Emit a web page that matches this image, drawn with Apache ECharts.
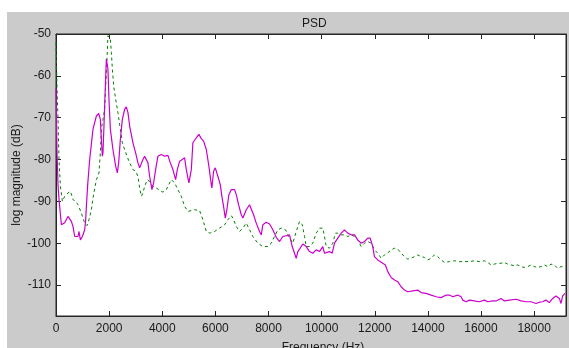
<!DOCTYPE html>
<html>
<head>
<meta charset="utf-8">
<script src="https://cdn.jsdelivr.net/npm/echarts@6.0.0/dist/echarts.min.js"></script>
<style>
  html, body { margin: 0; padding: 0; background: #ffffff; }
  #bg { position: absolute; left: 7px; top: 12px; width: 562px; height: 336px; background: #cbcbcb; }
  #chart { position: absolute; left: 0; top: 0; width: 569px; height: 348px; }
</style>
</head>
<body>
<div id="bg"></div>
<div id="chart"></div>
<script>
// ---- data ----
const titleText = 'PSD';
const xName = 'Frequency (Hz)';
const yName = 'log magnitude (dB)';
const xTicks = [0, 2000, 4000, 6000, 8000, 10000, 12000, 14000, 16000, 18000];
const yTicks = [-110, -100, -90, -80, -70, -60, -50];
const xMin = 0, xMax = 19200;
const yMin = -117.4, yMax = -50;

// magenta solid curve
const magFreq = [0,38,75,120,203,327,451,515,579,640,
  703,828,865,918,993,1080,1117,1144,1193,1268,
  1392,1520,1606,1670,1708,1746,1768,1806,1858,1896,
  1919,1956,1994,2047,2144,2246,2310,2359,2423,2498,
  2584,2648,2709,2773,2897,2998,3085,3149,3213,3273,
  3337,3401,3461,3525,3612,3675,3751,3837,3965,4089,
  4213,4304,4402,4503,4567,4654,4755,4842,4906,5003,
  5094,5154,5282,5380,5470,5557,5658,5756,5846,5869,
  5933,5997,6094,6185,6245,6309,6373,6433,6508,6598,
  6723,6787,6873,6975,7035,7163,7287,7351,7438,7539,
  7663,7727,7787,7915,8039,8164,8291,8416,8540,8690,
  8792,8893,8980,9044,9104,9168,9292,9420,9544,9668,
  9796,9920,10044,10108,10172,10297,10398,10485,10609,10737,
  10861,10985,11113,11237,11361,11489,11613,11737,11828,11925,
  11989,12114,12178,12302,12403,12490,12618,12742,12866,12994,
  13118,13242,13430,13618,13746,13934,14122,14311,14499,14687,
  14811,14935,15123,15187,15251,15311,15439,15563,15751,15939,
  16003,16127,16252,16440,16568,16756,16880,17068,17320,17508,
  17696,17884,18073,18197,18321,18449,18573,18697,18825,18949,
  19013,19073,19164];
const magDb = [-63,-78,-86,-90,-95.6,-95.1,-93.6,-93.9,-94.8,-96,
  -98.4,-98.4,-97.2,-99.2,-98.4,-96.8,-94.4,-91.2,-86,-80,
  -72.8,-69.6,-69,-70.4,-75.2,-79.2,-78.4,-72,-62.4,-56,
  -55.8,-58.4,-65.6,-72.8,-77.6,-81.6,-83.2,-80.8,-75.2,-70.4,
  -68,-67.4,-68.8,-72,-76,-78.4,-80.8,-82,-81.6,-80,
  -79.2,-79.2,-80.8,-84,-87.2,-85.6,-82.4,-79.2,-78.8,-79.2,
  -79,-80.8,-82.4,-84.8,-82.4,-80.4,-80,-79.6,-82.4,-85.6,
  -82.4,-76,-74.8,-74,-75,-75.6,-77.6,-81.6,-86,-86.8,
  -82.8,-82,-84,-86,-88.8,-91.2,-94,-92,-88.4,-87.2,
  -87.2,-88.4,-90.8,-93.2,-94,-92,-90.8,-91.2,-93.2,-95.2,
  -97.2,-98,-95.6,-95,-95.4,-96.8,-98.6,-99.6,-98.4,-98.2,
  -98,-100.8,-102.4,-103.6,-102,-101.4,-100.2,-100.8,-102,-102.4,
  -101.6,-102,-100.8,-102.4,-102.8,-102,-102.4,-100,-98.8,-97.6,
  -96.8,-97.6,-98,-98,-99.2,-100,-99.6,-98.8,-98.8,-100.8,
  -103.2,-104,-104.4,-104.8,-105.2,-106.8,-108.2,-108.8,-109.2,-110.4,
  -111.2,-111.6,-111.4,-111.2,-111.8,-112,-112.4,-112.8,-113,-112.4,
  -112.4,-112.8,-112.4,-112,-112.8,-113.6,-114,-113.6,-113.8,-114,
  -114.4,-113.6,-114,-113.8,-113.8,-113.2,-113.8,-113.6,-113.4,-113.8,
  -114,-114,-114.4,-114.1,-114,-113.6,-114.2,-113.2,-112.6,-113.2,
  -114.4,-112.6,-112];

// green dashed curve
const grnFreq = [0,38,75,113,166,241,327,451,542,640,
  741,828,956,1080,1166,1241,1332,1392,1520,1618,
  1670,1708,1768,1832,1870,1919,1956,1994,2047,2084,
  2122,2171,2246,2332,2423,2498,2584,2671,2773,2897,
  2998,3085,3149,3213,3273,3337,3401,3461,3525,3649,
  3777,3901,4025,4153,4277,4341,4466,4590,4718,4842,
  4966,5094,5218,5406,5530,5658,5782,5970,6158,6346,
  6471,6598,6659,6787,6911,7035,7163,7287,7411,7599,
  7787,7975,8103,8227,8352,8480,8641,8728,8792,8916,
  9044,9168,9270,9356,9420,9544,9668,9796,9920,10044,
  10108,10172,10297,10421,10522,10609,10737,10861,10985,11113,
  11237,11361,11489,11613,11737,11865,11989,12114,12242,12366,
  12490,12618,12742,12866,12994,13118,13242,13370,13494,13618,
  13746,13871,13995,14122,14247,14371,14499,14623,14811,14999,
  15187,15375,15563,15751,15939,16127,16252,16380,16504,16628,
  16756,16880,17004,17132,17256,17380,17508,17632,17756,17884,
  18009,18133,18261,18385,18509,18637,18761,18885,19013,19164];
const grnDb = [-52,-62.4,-70.4,-80,-86.4,-90,-88.8,-88,-87.6,-89.6,
  -90,-90.8,-92.8,-95.2,-95.8,-94.4,-92,-89.2,-84.8,-83.2,
  -78.4,-72.8,-70.4,-68,-62.4,-56,-50.4,-50,-51.2,-54.4,
  -58.4,-62.4,-65.6,-68.8,-72.8,-76,-77.6,-79.2,-80.8,-82.4,
  -82.8,-84,-86.8,-88.8,-88,-86.4,-85.4,-84.8,-85.2,-86.4,
  -86.8,-87.4,-87.8,-87.2,-85.6,-84.8,-85.6,-87.2,-88.8,-91.2,
  -92.4,-92.2,-92,-92.2,-94.4,-97.2,-97.6,-97.2,-96.4,-95.6,
  -94.4,-93.4,-94,-96,-97.2,-96.4,-95.2,-96.8,-98.4,-100,
  -100.8,-100.8,-100,-98.4,-96.8,-96.4,-96.8,-98,-98.4,-100,
  -97.2,-94.8,-95.6,-98.4,-100.8,-100.8,-100,-97.6,-96.4,-96.4,
  -98.4,-100.8,-101.2,-100,-97.6,-97.6,-98,-98,-98.4,-98,
  -98.4,-99.2,-100.8,-100,-99.6,-100,-101.6,-102.4,-103.6,-102.8,
  -102.3,-101.6,-101.2,-101.4,-102.4,-103.2,-103.8,-103.6,-103.2,-102.8,
  -103.2,-103.4,-104,-103.6,-102.8,-103.2,-104,-104.6,-104.4,-104.2,
  -104.4,-104.4,-104.4,-104.2,-104.4,-104.2,-104.6,-105.2,-105,-104.8,
  -104.8,-104.6,-105,-105.2,-105.4,-105.2,-105.6,-105.8,-105.6,-105.2,
  -105.6,-105.8,-105.6,-105.2,-105.6,-105,-105.2,-106,-105.6,-105.6];

// ---- chart ----
const FONT = '"Liberation Sans", Arial, sans-serif';
const TXT = '#1a1a1a';
const AX = '#262626';
const zip = (a, b) => a.map((v, i) => [v, b[i]]);
const plain = v => String(v);

const chart = echarts.init(document.getElementById('chart'), null, { renderer: 'canvas' });

const xBase = {
  type: 'value', min: xMin, max: xMax,
  splitLine: { show: false },
  nameMoveOverlap: false,
  axisLine: { show: true, onZero: false, lineStyle: { color: AX, width: 1 } },
  axisTick: { show: true, inside: true, length: 5, customValues: xTicks, lineStyle: { color: AX } }
};
const yBase = {
  type: 'value', min: yMin, max: yMax,
  splitLine: { show: false },
  nameMoveOverlap: false,
  axisLine: { show: true, onZero: false, lineStyle: { color: AX, width: 1 } },
  axisTick: { show: true, inside: true, length: 5, customValues: yTicks, lineStyle: { color: AX } }
};

chart.setOption({
  animation: false,
  backgroundColor: 'transparent',
  textStyle: { fontFamily: FONT },
  title: {
    text: titleText, left: 297, top: 13,
    textStyle: { fontFamily: FONT, fontSize: 12, fontWeight: 'normal', color: TXT }
  },
  grid: {
    left: 56, top: 34, right: 3, bottom: 32,
    containLabel: false, outerBoundsMode: 'none',
    show: true, backgroundColor: '#ffffff', borderColor: AX, borderWidth: 1
  },
  xAxis: [
    Object.assign({}, xBase, {
      position: 'bottom',
      name: xName, nameLocation: 'middle', nameGap: 26,
      nameTextStyle: { fontFamily: FONT, fontSize: 12, color: TXT, padding: [0, 0, 0, 24] },
      axisLabel: { show: true, customValues: xTicks, formatter: plain, margin: 7, fontFamily: FONT, fontSize: 12, color: TXT }
    }),
    Object.assign({}, xBase, { position: 'top', axisLabel: { show: false } })
  ],
  yAxis: [
    Object.assign({}, yBase, {
      position: 'left',
      name: yName, nameLocation: 'middle', nameGap: 33, nameRotate: 90,
      nameTextStyle: { fontFamily: FONT, fontSize: 12, color: TXT },
      axisLabel: { show: true, customValues: yTicks, formatter: plain, margin: 5, fontFamily: FONT, fontSize: 12, color: TXT }
    }),
    Object.assign({}, yBase, { position: 'right', axisLabel: { show: false } })
  ],
  series: [
    {
      type: 'line', xAxisIndex: 0, yAxisIndex: 0,
      data: zip(grnFreq, grnDb),
      showSymbol: false, symbol: 'none', z: 2,
      lineStyle: { color: '#008000', width: 1, type: [3, 3] }
    },
    {
      type: 'line', xAxisIndex: 0, yAxisIndex: 0,
      data: zip(magFreq, magDb),
      showSymbol: false, symbol: 'none', z: 3,
      lineStyle: { color: '#cc00cc', width: 1.2 }
    }
  ]
});
</script>
</body>
</html>
